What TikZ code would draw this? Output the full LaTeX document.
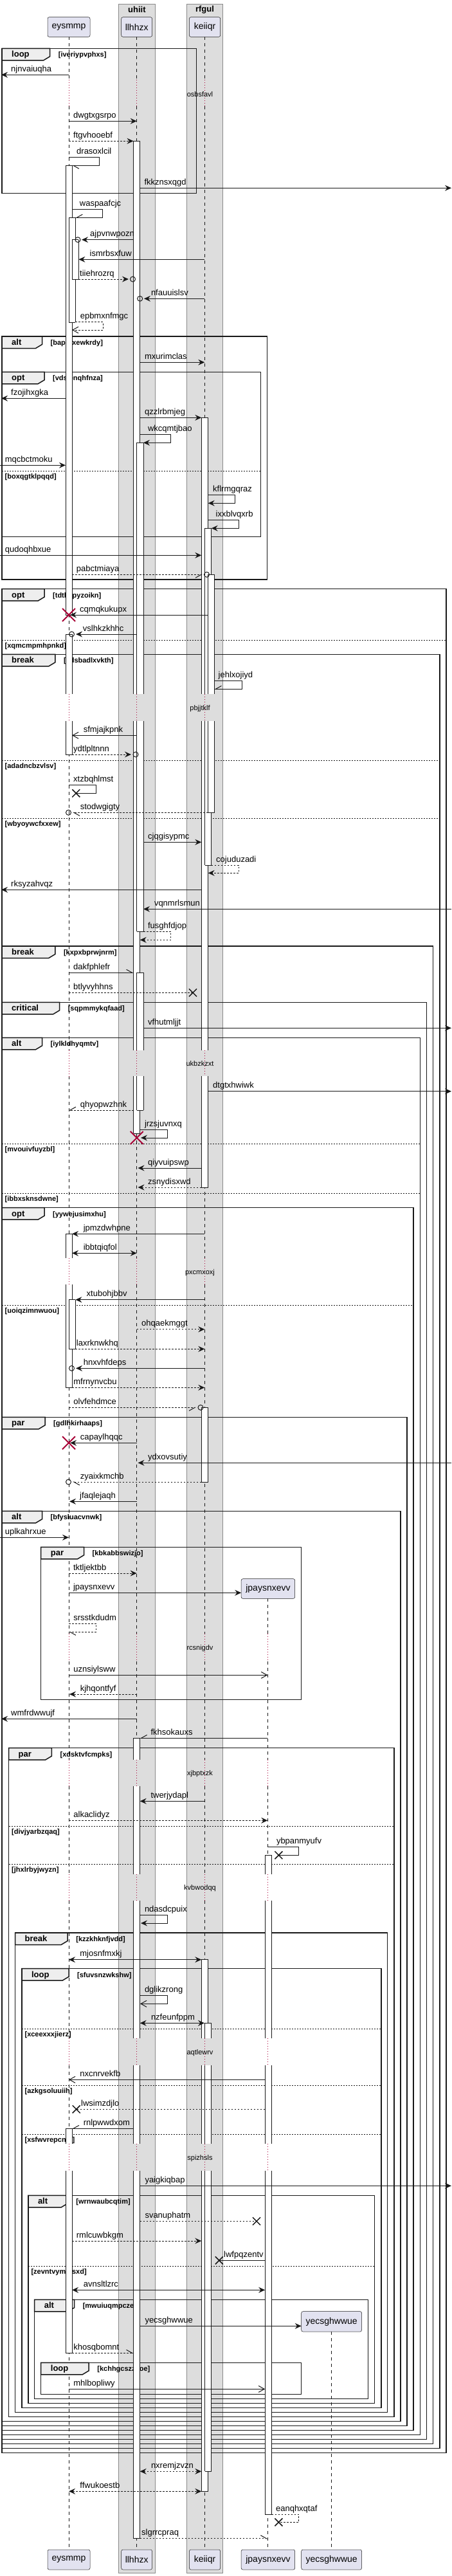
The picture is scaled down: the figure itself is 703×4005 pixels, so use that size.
\documentclass[tikz,border=0pt]{standalone}
\usepackage{fontspec}
\setmainfont{Liberation Sans}
\usetikzlibrary{arrows.meta}
\definecolor{ln}{HTML}{181818}
\definecolor{pbg}{HTML}{E2E2F0}
\definecolor{boxg}{HTML}{DDDDDD}
\definecolor{boxb}{HTML}{8A8A8A}
\definecolor{tabg}{HTML}{EEEEEE}
\definecolor{dred}{HTML}{A80036}
\tikzset{
 lbl/.style={anchor=base west, inner sep=0pt, font=\fontsize{13}{15}\selectfont, text=black},
 msgl/.style={draw=ln, line width=1pt},
 dsh/.style={dash pattern=on 2.5pt off 2.5pt},
 sync/.style={msgl, -{Stealth[length=10pt,width=9pt,inset=3.5pt]}},
 syncd/.style={sync, dsh},
 both/.style={msgl, {Stealth[length=10pt,width=9pt,inset=3.5pt]}-{Stealth[length=10pt,width=9pt,inset=3.5pt]}},
 bothd/.style={both, dsh},
 opn/.style={msgl, -{Straight Barb[length=9pt,width=10pt]}},
 opnd/.style={opn, dsh},
 hl/.style={msgl, -{Straight Barb[length=9pt,width=10pt,left]}},
 hld/.style={hl, dsh},
 hr/.style={msgl, -{Straight Barb[length=9pt,width=10pt,right]}},
 hrd/.style={hr, dsh},
 pln/.style={msgl},
 plnd/.style={msgl, dsh},
 grpframe/.style={draw=ln, line width=1.5pt},
 grptab/.style={draw=ln, line width=1.5pt, fill=tabg},
 grpkw/.style={anchor=base west, inner sep=0pt, font=\bfseries\fontsize{13}{15}\selectfont},
 grpcond/.style={anchor=base west, inner sep=0pt, font=\bfseries\fontsize{11}{13}\selectfont},
 grpsep/.style={draw=ln, line width=1pt, dash pattern=on 2pt off 2pt},
 lifel/.style={draw=ln, line width=0.5pt, dash pattern=on 5pt off 5pt},
 dlyl/.style={draw=dred, line width=1pt, dash pattern=on 1pt off 3pt},
 dlyt/.style={inner sep=0pt, font=\fontsize{11}{13}\selectfont},
 actl/.style={draw=ln, line width=1pt},
 circm/.style={circle, draw=ln, line width=1pt, minimum size=8pt, inner sep=0pt},
 xml/.style={draw=ln, line width=1.5pt},
 redxl/.style={draw=dred, line width=2pt},
 partbox/.style={draw=ln, line width=0.5pt, fill=pbg, rounded corners=2.5pt, inner sep=0pt, font=\fontsize{14}{16}\selectfont},
 gbox/.style={draw=boxb, line width=1pt, fill=boxg},
 gtitle/.style={inner sep=0pt, font=\bfseries\fontsize{13}{15}\selectfont}
}
\newcommand{\sqmsg}[7]{%
 \coordinate (#1a) at (#2,#4); \coordinate (#1b) at (#3,#4);
 \draw[#5] (#1a) -- (#1b);
 \node[lbl] (#1t) at (#6,#4-5) {#7};}
\newcommand{\sqself}[9]{%
 \coordinate (#1a) at (#2,#4); \coordinate (#1b) at (#3,#4);
 \coordinate (#1c) at (#3,#5); \coordinate (#1d) at (#6,#5);
 \draw[#7] (#1a) -- (#1b) -- (#1c) -- (#1d);
 \node[lbl] (#1t) at (#8,#4-5) {#9};}
\newcommand{\sqgrp}[8]{%
 \draw[grptab] (#1,#2) -- (#5,#2) -- (#5,#2+12.5) -- (#5-10,#2+18.5) -- (#1,#2+18.5) -- cycle;
 \draw[grpframe] (#1,#2) rectangle (#3,#4);
 \node[grpkw] (#8k) at (#1+15,#2+13.5) {#6};
 \node[grpcond] (#8c) at (#5+13,#2+13.5) {#7};}
\newcommand{\sqels}[5]{%
 \draw[grpsep] (#1,#3) -- (#2,#3);
 \node[grpcond] (#5) at (#1+4.5,#3+12) {#4};}
\newcommand{\sqbar}[6]{%
 \fill[white] (#1,#3) rectangle (#2,#4);
 \draw[actl] (#1,#3) -- (#1,#4) (#2,#3) -- (#2,#4);
 \ifnum#5=1 \draw[actl] (#1,#3) -- (#2,#3);\fi
 \ifnum#6=1 \draw[actl] (#1,#4) -- (#2,#4);\fi}
\newcommand{\sqcirc}[3]{\node[circm] (#1) at (#2,#3) {};}
\newcommand{\sqx}[4]{\coordinate (#1) at (#2,#3); \draw[xml] (#2-#4,#3-#4) -- (#2+#4,#3+#4) (#2-#4,#3+#4) -- (#2+#4,#3-#4);}
\newcommand{\sqredx}[3]{\coordinate (#1) at (#2,#3); \draw[redxl] (#2-10,#3-10) -- (#2+10,#3+10) (#2-10,#3+10) -- (#2+10,#3-10);}
\newcommand{\sqdelay}[3]{\node[dlyt] (#1) at (311,#2) {#3};}
\begin{document}
\begin{tikzpicture}[x=1pt,y=-1pt]
\useasboundingbox (0,0) rectangle (703,4005);
\fill[white] (0,0) rectangle (703,4005);
% participant groups
\draw[gbox] (184.7,6.3) rectangle (241.1,4000);
\draw[gbox] (290.3,6.3) rectangle (346.8,4000);
\node[gtitle] (gU) at (212.9,14.7) {uhiit};
\node[gtitle] (gR) at (318.5,14.7) {rfgul};
% lifelines
\foreach \xx in {107,212.7,318.3} {
 \foreach \a/\b in {57.3/124,165/1079.3,1121/1632.7,1673.3/1956,1996.7/2540,2583.3/2735.7,2776.7/2914,2954.7/3169.3,3210.7/3333.3,3375/3964} {\draw[lifel] (\xx,\a) -- (\xx,\b);}
 \foreach \a/\b in {124/165,1079.3/1121,1632.7/1673.3,1956/1996.7,2540/2583.3,2735.7/2776.7,2914/2954.7,3169.3/3210.7,3333.3/3375} {\draw[dlyl] (\xx,\a) -- (\xx,\b);}
}
\foreach \a/\b in {2485.3/2540,2583.3/2735.7,2776.7/2914,2954.7/3169.3,3210.7/3333.3,3375/3964} {\draw[lifel] (416.3,\a) -- (416.3,\b);}
\foreach \a/\b in {2540/2583.3,2735.7/2776.7,2914/2954.7,3169.3/3210.7,3333.3/3375} {\draw[dlyl] (416.3,\a) -- (416.3,\b);}
\draw[lifel] (515.2,3625) -- (515.2,3964);
% participants
\node[partbox, minimum width=66pt, minimum height=30.6pt] (pE) at (107,42) {eysmmp};
\node[partbox, minimum width=47.9pt, minimum height=30.6pt] (pL) at (212.65,42) {llhhzx};
\node[partbox, minimum width=48.3pt, minimum height=30.6pt] (pK) at (318.55,42) {keiiqr};
\node[partbox, minimum width=66pt, minimum height=31pt] (qE) at (107,3979.5) {eysmmp};
\node[partbox, minimum width=47.9pt, minimum height=31pt] (qL) at (212.65,3979.5) {llhhzx};
\node[partbox, minimum width=48.3pt, minimum height=31pt] (qK) at (318.55,3979.5) {keiiqr};
\node[partbox, minimum width=83.5pt, minimum height=30.6pt] (pJ) at (416.95,2470) {jpaysnxevv};
\node[partbox, minimum width=83.5pt, minimum height=31pt] (qJ) at (416.95,3979.5) {jpaysnxevv};
\node[partbox, minimum width=93.9pt, minimum height=31.3pt] (pY) at (515.65,3609.35) {yecsghwwue};
\node[partbox, minimum width=93.9pt, minimum height=31pt] (qY) at (515.65,3979.5) {yecsghwwue};
% delays
\sqdelay{d1}{146.7}{osbsfavl}
\sqdelay{d2}{1101.3}{pbjjtklf}
\sqdelay{d3}{1653.3}{ukbzkzxt}
\sqdelay{d4}{1978.3}{pxcmxoxj}
\sqdelay{d5}{2562.3}{rcsnigdv}
\sqdelay{d6}{2757.3}{xjbptxzk}
\sqdelay{d7}{2935.3}{kvbwodqq}
\sqdelay{d8}{3191.3}{aqtlewrv}
\sqdelay{d9}{3355.3}{spizhsls}
% groups
\sqgrp{3}{75.3}{305.7}{300.7}{77.7}{loop}{[iveriypvphxs]}{g1}
\sqgrp{3}{523}{415.4}{901}{65.5}{alt}{[bapofxewkrdy]}{g2}
\sqgrp{3}{578.3}{405.5}{834.3}{69}{opt}{[vdsienqhfnza]}{g3}
\sqels{3}{405.5}{732}{[boxqgtklpqqd]}{e3a}
\sqgrp{3}{915.7}{694}{3813.3}{69}{opt}{[tdthspyzoikn]}{g4}
\sqels{3}{694}{995}{[xqmcmpmhpnkd]}{e4a}
\sqgrp{3}{1017.3}{684}{3806.3}{85.8}{break}{[cdsbadlxvkth]}{g5}
\sqels{3}{684}{1182.3}{[adadncbzvlsv]}{e5a}
\sqels{3}{684}{1272.3}{[wbyoywcfxxew]}{e5b}
\sqgrp{3}{1471}{673.6}{3799.3}{85.8}{break}{[kxpxbprwjnrm]}{g6}
\sqgrp{3}{1558.3}{663.7}{3792.3}{92.6}{critical}{[sqpmmykqfaad]}{g7}
\sqgrp{3}{1613.3}{653.3}{3785.3}{65.5}{alt}{[iylkldhyqmtv]}{g8}
\sqels{3}{653.3}{1778}{[mvouivfuyzbl]}{e8a}
\sqels{3}{653.3}{1855.3}{[ibbxsknsdwne]}{e8b}
\sqgrp{3}{1877.7}{643}{3778.3}{69}{opt}{[yywejusimxhu]}{g9}
\sqels{3}{643}{2029.3}{[uoiqzimnwuou]}{e9a}
\sqgrp{3}{2203.3}{633}{3771.3}{70}{par}{[gdlhkirhaaps]}{g10}
\sqgrp{3}{2349.3}{623}{3764.3}{65.5}{alt}{[bfysluacvnwk]}{g11}
\sqgrp{63.7}{2405.3}{468.7}{2642.3}{130.5}{par}{[kbkabbswizjo]}{g12}
\sqgrp{13.5}{2717.7}{613}{3757.3}{80.4}{par}{[xdsktvfcmpks]}{g13}
\sqels{13.5}{613}{2839.3}{[divjyarbzqaq]}{e13a}
\sqels{13.5}{613}{2898.3}{[jhxlrbyjwyzn]}{e13b}
\sqgrp{23.5}{3005}{602.7}{3750.3}{105.2}{break}{[kzzkhknfjvdd]}{g14}
\sqgrp{33.9}{3060.7}{592.8}{3743.3}{107}{loop}{[sfuvsnzwkshw]}{g15}
\sqels{33.9}{592.8}{3154}{[xceexxxjierz]}{e15a}
\sqels{33.9}{592.8}{3242.3}{[azkgsoluuiih]}{e15b}
\sqels{33.9}{592.8}{3318.3}{[xsfwvrepcnfe]}{e15c}
\sqgrp{43.8}{3413.3}{582.4}{3736.3}{105.2}{alt}{[wrnwaubcqtim]}{g16}
\sqels{43.8}{582.4}{3523.3}{[zevntvymmsxd]}{e16a}
\sqgrp{53.7}{3575.3}{572.5}{3729.3}{115.6}{alt}{[mwuiuqmpczeh]}{g17}
\sqgrp{63.7}{3673.3}{468.7}{3722.3}{138.2}{loop}{[kchhgcszzyoe]}{g18}
% activation bars
\sqbar{102}{112}{257.3}{956}{1}{1}
\sqbar{107}{117.4}{338.3}{501}{1}{1}
\sqbar{112}{122.4}{372.7}{434}{1}{1}
\sqbar{102}{112}{986}{1079.3}{1}{0}\sqbar{102}{112}{1121}{1173}{0}{1}
\sqbar{102}{112}{1918.3}{1956}{1}{0}\sqbar{102}{112}{1996.7}{2157.3}{0}{1}
\sqbar{107}{117.4}{2020.7}{2097.3}{1}{1}
\sqbar{102}{112}{3309.3}{3333.3}{1}{0}\sqbar{102}{112}{3375}{3658.3}{0}{1}
\sqbar{207.5}{217.7}{219.3}{1079.3}{1}{0}\sqbar{207.5}{217.7}{1121}{1632.7}{0}{0}\sqbar{207.5}{217.7}{1673.3}{1762.3}{0}{1}
\sqbar{212.7}{223}{688.3}{1079.3}{1}{0}\sqbar{212.7}{223}{1121}{1448.3}{0}{1}
\sqbar{212.7}{223}{1512.3}{1632.7}{1}{0}\sqbar{212.7}{223}{1673.3}{1726}{0}{1}
\sqbar{207.5}{217.7}{2702.3}{2735.7}{1}{0}\sqbar{207.5}{217.7}{2776.7}{2914}{0}{0}\sqbar{207.5}{217.7}{2954.7}{3169.3}{0}{0}\sqbar{207.5}{217.7}{3210.7}{3333.3}{0}{0}\sqbar{207.5}{217.7}{3375}{3946.7}{0}{1}
\sqbar{313.3}{323.7}{649.3}{1079.3}{1}{0}\sqbar{313.3}{323.7}{1121}{1632.7}{0}{0}\sqbar{313.3}{323.7}{1673.3}{1846}{0}{1}
\sqbar{318.8}{328.7}{821.3}{1079.3}{1}{0}\sqbar{318.8}{328.7}{1121}{1345}{0}{1}
\sqbar{323.7}{333.5}{893.3}{1079.3}{1}{0}\sqbar{323.7}{333.5}{1121}{1263.3}{0}{1}
\sqbar{313.3}{323.7}{2188.3}{2304}{1}{1}
\sqbar{313.3}{323.7}{3046.7}{3169.3}{1}{0}\sqbar{313.3}{323.7}{3210.7}{3333.3}{0}{0}\sqbar{313.3}{323.7}{3375}{3873.3}{0}{1}
\sqbar{318.8}{328.7}{3145.3}{3169.3}{1}{0}\sqbar{318.8}{328.7}{3210.7}{3333.3}{0}{0}\sqbar{318.8}{328.7}{3375}{3842.3}{0}{1}
\sqbar{412.2}{422.6}{2884.3}{2914}{1}{0}\sqbar{412.2}{422.6}{2954.7}{3169.3}{0}{0}\sqbar{412.2}{422.6}{3210.7}{3333.3}{0}{0}\sqbar{412.2}{422.6}{3375}{3909}{0}{1}
% messages
\sqmsg{m1}{107}{2}{116.3}{sync}{17}{njnvaiuqha}
\sqmsg{m2}{107}{212.7}{188.3}{sync}{114}{dwgtxgsrpo}
\sqmsg{m3}{107}{207.5}{219.3}{syncd}{114}{ftgvhooebf}
\sqself{m4}{107}{154.4}{244.3}{257.3}{112}{hl}{119}{drasoxlcil}
\sqmsg{m5}{217.7}{702}{292.3}{sync}{224.4}{fkkznsxqgd}
\sqself{m6}{112}{159.4}{325.7}{338.3}{117.4}{hr}{123.7}{waspaafcjc}
\sqmsg{m7}{207.5}{127}{372.7}{sync}{140}{ajpvnwpozn}\sqcirc{c7}{121}{372.7}
\sqmsg{m8}{318.3}{122.4}{403.3}{sync}{139.5}{ismrbsxfuw}
\sqmsg{m9}{122.4}{200}{434}{syncd}{124}{tiiehrozrq}\sqcirc{c9}{206.5}{434}
\sqmsg{m10}{318.3}{224}{464.3}{sync}{234.8}{nfauuislsv}\sqcirc{c10}{217.7}{464.3}
\sqself{m11}{117.4}{160}{500.7}{513}{112}{opnd}{124.6}{epbmxnfmgc}
\sqmsg{m12}{217.7}{318.3}{563.3}{sync}{224.8}{mxurimclas}
\sqmsg{m13}{102}{2}{619.3}{sync}{17}{fzojihxgka}
\sqmsg{m14}{217.7}{313.3}{649.3}{sync}{225}{qzzlrbmjeg}
\sqself{m15}{217.7}{265.5}{675.3}{688.3}{223}{sync}{229.8}{wkcqmtjbao}
\sqmsg{m16}{0}{102}{723.3}{sync}{7.7}{mqcbctmoku}
\sqself{m17}{323.7}{365.7}{769.3}{782.3}{323.7}{sync}{331}{kflrmgqraz}
\sqself{m18}{323.7}{371}{808.3}{821.3}{328.7}{sync}{335.5}{ixxblvqxrb}
\sqmsg{m19}{0}{313.3}{863.3}{sync}{7.7}{qudoqhbxue}
\sqmsg{m20}{112}{315}{893.3}{hrd}{118.7}{pabctmiaya}\sqcirc{c20}{321.5}{893.3}
\sqmsg{m21}{323.7}{109}{956}{sync}{124}{cqmqkukupx}\sqredx{x21}{107}{956}
\sqmsg{m22}{212.7}{118}{986}{sync}{128.7}{vslhkzkhhc}\sqcirc{c22}{111.5}{986}
\sqself{m23}{333.5}{376}{1058.7}{1071.3}{333.5}{hr}{339.5}{jehlxojiyd}
\sqmsg{m24}{212.7}{112}{1143.3}{opn}{129.6}{sfmjajkpnk}
\sqmsg{m25}{112}{204}{1173}{syncd}{114}{ydtlpltnnn}\sqcirc{c25}{211}{1173}
\sqself{m26}{107}{149.4}{1220.3}{1233.3}{118.3}{pln}{114}{xtzbqhlmst}\sqx{x26}{118.3}{1233.3}{6}
\sqmsg{m27}{323.7}{113}{1263.3}{hld}{124.6}{stodwgigty}\sqcirc{c27}{106.5}{1263.3}
\sqmsg{m28}{223}{313.3}{1309.3}{sync}{230}{cjqgisypmc}
\sqself{m29}{328.7}{371}{1345}{1357.3}{323.7}{syncd}{336}{cojuduzadi}
\sqmsg{m30}{313.3}{2}{1383.3}{sync}{17}{rksyzahvqz}
\sqmsg{m31}{702}{223}{1413.3}{sync}{239.8}{vqnmrlsmun}
\sqself{m32}{223}{265.5}{1448.3}{1461.3}{217.7}{syncd}{229.8}{fusghfdjop}
\sqmsg{m33}{107}{207.5}{1512.3}{hl}{114}{dakfphlefr}
\sqmsg{m34}{107}{300}{1543.3}{plnd}{114}{btlyvyhhns}\sqx{x34}{300}{1543.3}{6}
\sqmsg{m35}{223}{702}{1598.3}{sync}{229.8}{vfhutmljjt}
\sqmsg{m36}{323.7}{702}{1696.7}{sync}{331}{dtgtxhwiwk}
\sqmsg{m37}{207.5}{107}{1726}{hrd}{124.6}{qhyopwzhnk}
\sqself{m38}{217.7}{260.5}{1756.7}{1769}{219}{sync}{224.8}{jrzsjuvnxq}\sqredx{x38}{212.7}{1769}
\sqmsg{m39}{313.3}{214.5}{1816}{sync}{230}{qiyvuipswp}
\sqmsg{m40}{313.3}{214.5}{1846}{syncd}{230}{zsnydisxwd}
\sqmsg{m41}{318.3}{112}{1918.3}{sync}{129.6}{jpmzdwhpne}
\sqmsg{m42}{112}{212.7}{1948.3}{both}{129.6}{ibbtqiqfol}
\sqmsg{m43}{318.3}{117.4}{2020.7}{sync}{134.5}{xtubohjbbv}
\sqmsg{m44}{212.7}{318.3}{2066.7}{syncd}{220}{ohqaekmggt}
\sqmsg{m45}{117.4}{318.3}{2097.3}{syncd}{118.7}{laxrknwkhq}
\sqmsg{m46}{318.3}{118}{2127.3}{sync}{129.6}{hnxvhfdeps}\sqcirc{c46}{111.5}{2127.3}
\sqmsg{m47}{112}{318.3}{2157.3}{syncd}{114.2}{mfrnynvcbu}
\sqmsg{m48}{107}{305}{2188.3}{hrd}{114.2}{olvfehdmce}\sqcirc{c48}{312}{2188.3}
\sqmsg{m49}{212.7}{109}{2243.3}{sync}{124.6}{capaylhqqc}\sqredx{x49}{107}{2243.3}
\sqmsg{m50}{702}{214.5}{2274.3}{sync}{230}{ydxovsutiy}
\sqmsg{m51}{313.3}{113}{2304}{hld}{124.6}{zyaixkmchb}\sqcirc{c51}{106.5}{2304}
\sqmsg{m52}{212.7}{108}{2334.3}{sync}{124}{jfaqlejaqh}
\sqmsg{m53}{0}{107}{2390.3}{sync}{7.7}{uplkahrxue}
\sqmsg{m54}{107}{212.7}{2446}{syncd}{113.8}{tktljektbb}
\sqmsg{m55}{107}{375.2}{2476.3}{sync}{113.8}{jpaysnxevv}
\sqself{m56}{107}{149.4}{2524.3}{2537.3}{107}{hld}{114.2}{srsstkdudm}
\sqmsg{m57}{107}{416.3}{2604.3}{opn}{114.2}{uznsiylsww}
\sqmsg{m58}{212.7}{108}{2634}{syncd}{124.6}{kjhqontfyf}
\sqmsg{m59}{212.7}{2}{2672.3}{sync}{17}{wmfrdwwujf}
\sqmsg{m60}{416.3}{217.7}{2702.3}{hr}{234.3}{fkhsokauxs}
\sqmsg{m61}{318.3}{217.7}{2800.3}{sync}{234.3}{twerjydapl}
\sqmsg{m62}{107}{416.3}{2830.3}{syncd}{114.2}{alkaclidyz}
\sqself{m63}{416.3}{464.6}{2871.3}{2884.3}{433.4}{pln}{429.8}{ybpanmyufv}\sqx{x63}{433.4}{2884.3}{6}
\sqself{m64}{217.7}{260.5}{2977.7}{2990}{219}{sync}{224.8}{ndasdcpuix}
\sqmsg{m65}{107}{313.3}{3046.7}{both}{124.2}{mjosnfmxkj}
\sqself{m66}{217.7}{260.5}{3102.7}{3115.3}{218}{opn}{224.8}{dglikzrong}
\sqmsg{m67}{217.7}{318}{3145.3}{both}{234.8}{nzfeunfppm}
\sqmsg{m68}{412.2}{107}{3233.3}{opn}{124.2}{nxcnrvekfb}
\sqmsg{m69}{412.2}{118.7}{3279.3}{plnd}{126}{lwsimzdjlo}\sqx{x69}{118.7}{3279.3}{6}
\sqmsg{m70}{207.5}{112}{3309.3}{hr}{129.6}{rnlpwwdxom}
\sqmsg{m71}{217.7}{702}{3398.3}{sync}{225.3}{yaigkiqbap}
\sqmsg{m72}{217.7}{399}{3453.3}{plnd}{225.3}{svanuphatm}\sqx{x72}{399}{3453.3}{6}
\sqmsg{m73}{112}{313.3}{3484}{syncd}{118.7}{rmlcuwbkgm}
\sqmsg{m74}{412.2}{340.9}{3514.3}{pln}{348}{lwfpqzentv}\sqx{x74}{340.9}{3514.3}{6}
\sqmsg{m75}{112}{412.2}{3560.3}{both}{129.6}{avnsltlzrc}
\sqmsg{m76}{217.7}{468.7}{3616.3}{sync}{225.3}{yecsghwwue}
\sqmsg{m77}{112}{207.5}{3658.3}{hld}{114.2}{khosqbomnt}
\sqmsg{m78}{107}{412.2}{3714.3}{opn}{114.2}{mhlbopliwy}
\sqmsg{m79}{217.7}{313.3}{3842.3}{bothd}{234.8}{nxremjzvzn}
\sqmsg{m80}{107}{313.3}{3873.3}{bothd}{124.2}{ffwukoestb}
\sqself{m81}{422.6}{464.6}{3909}{3921.3}{433.4}{plnd}{428.9}{eanqhxqtaf}\sqx{x81}{433.4}{3921.3}{6}
\sqmsg{m82}{217.7}{416.3}{3946.7}{hld}{220}{slgrrcpraq}
\end{tikzpicture}
\end{document}
